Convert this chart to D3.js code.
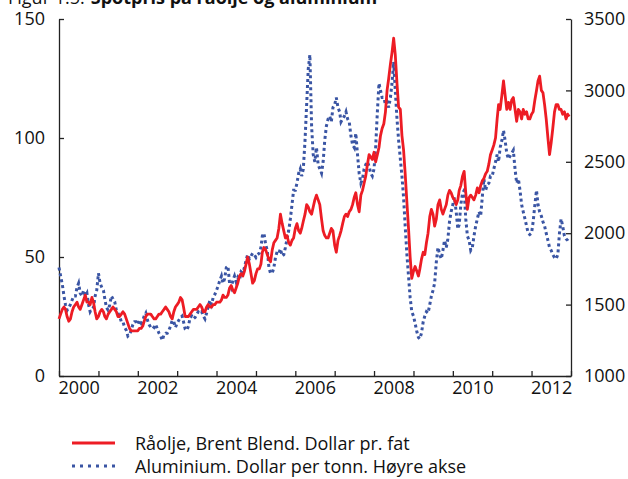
<!DOCTYPE html>
<html>
<head>
<meta charset="utf-8">
<script src="https://cdn.jsdelivr.net/npm/d3@7"></script>
<style>
  body { margin: 0; background: #fff; }
  text { font-family: "Open Sans", sans-serif; fill: #111; }
</style>
</head>
<body>
<div id="chart"></div>
<script>
// chart size
var svgWidth = 628;
var svgHeight = 479;

var margin = { top: 19, right: 57, bottom: 103, left: 59 };
var chartWidth = svgWidth - margin.left - margin.right;
var chartHeight = svgHeight - margin.top - margin.bottom;

// data: two points per month, 2000-2012
var years = [2000, 2001, 2002, 2003, 2004, 2005, 2006, 2007, 2008, 2009, 2010, 2011, 2012];

// Brent Blend, dollar per barrel (left axis)
var oil = [
  24, 26, 28, 29, 28, 25, 23, 24, 27, 29, 30, 31, 29, 28, 30, 32, 34, 31, 31, 30, 33, 31, 27, 24,
  25, 27, 28, 27, 25, 24, 26, 27, 28, 29, 28, 27, 25, 25, 26, 27, 26, 24, 22, 20, 19, 19, 19, 19,
  19, 20, 20, 21, 23, 25, 26, 26, 26, 25, 24, 24, 25, 26, 26, 27, 28, 29, 28, 27, 25, 24, 27, 29,
  30, 31, 33, 32, 29, 25, 25, 25, 26, 27, 28, 28, 28, 29, 30, 29, 27, 27, 29, 30, 29, 29, 30, 30,
  31, 31, 31, 32, 34, 33, 33, 34, 37, 38, 36, 35, 37, 39, 42, 43, 42, 44, 47, 50, 47, 43, 39, 40,
  43, 45, 45, 47, 52, 54, 53, 51, 49, 48, 53, 56, 57, 58, 62, 68, 64, 61, 58, 59, 56, 55, 57, 58,
  62, 64, 61, 60, 62, 65, 68, 72, 71, 69, 68, 71, 74, 76, 74, 72, 66, 61, 59, 58, 58, 60, 62, 61,
  55, 52, 57, 59, 61, 64, 67, 68, 67, 69, 70, 72, 75, 77, 72, 69, 76, 78, 81, 84, 89, 93, 92, 91,
  94, 90, 93, 96, 101, 104, 106, 111, 120, 125, 131, 136, 142, 135, 123, 113, 112, 101, 95, 85, 73, 62, 50, 41,
  44, 46, 44, 42, 45, 49, 52, 51, 56, 60, 67, 70, 68, 63, 66, 72, 74, 70, 68, 70, 72, 76, 78, 77,
  75, 74, 72, 74, 78, 80, 84, 86, 77, 70, 75, 76, 75, 74, 76, 79, 77, 80, 82, 83, 85, 86, 89, 93,
  95, 97, 100, 108, 114, 112, 118, 124, 118, 112, 115, 112, 116, 117, 112, 107, 112, 111, 108, 112, 110, 111, 108, 108,
  110, 111, 116, 120, 124, 126, 120, 119, 114, 108, 100, 93, 98, 104, 111, 114, 114, 112, 112, 110, 111, 108, 110, 109
];

// Aluminium, dollar per tonne (right axis)
var alu = [
  1760, 1700, 1640, 1560, 1500, 1460, 1480, 1500, 1530, 1560, 1560, 1620, 1650, 1580, 1560, 1600, 1560, 1580, 1500, 1450, 1470, 1480, 1560, 1600,
  1720, 1650, 1620, 1600, 1540, 1480, 1460, 1500, 1560, 1540, 1520, 1460, 1440, 1420, 1380, 1380, 1340, 1320, 1280, 1290, 1320, 1360, 1380, 1380,
  1360, 1390, 1370, 1390, 1420, 1440, 1390, 1360, 1340, 1350, 1340, 1360, 1330, 1300, 1280, 1250, 1290, 1300, 1300, 1320, 1350, 1390, 1380, 1340,
  1370, 1390, 1410, 1420, 1380, 1330, 1320, 1350, 1410, 1420, 1400, 1410, 1430, 1450, 1440, 1450, 1420, 1400, 1440, 1490, 1530, 1500, 1550, 1570,
  1600, 1630, 1670, 1700, 1650, 1680, 1760, 1770, 1650, 1620, 1670, 1700, 1660, 1690, 1670, 1730, 1720, 1760, 1810, 1850, 1820, 1840, 1860, 1850,
  1830, 1850, 1860, 1900, 1980, 2000, 1920, 1880, 1760, 1720, 1720, 1760, 1830, 1870, 1860, 1890, 1840, 1850, 1900, 1960, 2020, 2100, 2200, 2300,
  2300, 2350, 2420, 2450, 2400, 2450, 2650, 2900, 3150, 3250, 2750, 2550, 2500, 2600, 2480, 2450, 2420, 2500, 2650, 2750, 2800, 2820, 2780, 2880,
  2900, 2950, 2880, 2850, 2780, 2800, 2820, 2850, 2800, 2780, 2680, 2620, 2600, 2700, 2550, 2420, 2350, 2380, 2450, 2480, 2500, 2470, 2420, 2400,
  2450, 2600, 2850, 3050, 3000, 2950, 2950, 2900, 2920, 2880, 2950, 3050, 3200, 3000, 2800, 2650, 2520, 2400, 2250, 2050, 1850, 1700, 1550, 1450,
  1420, 1370, 1310, 1270, 1260, 1300, 1380, 1420, 1450, 1440, 1500, 1560, 1600, 1650, 1800, 1900, 1850, 1820, 1880, 1950, 1900, 1960, 2080, 2150,
  2200, 2250, 2150, 2030, 2060, 2200, 2280, 2300, 2100, 1980, 1950, 1880, 1900, 1980, 2050, 2100, 2150, 2120, 2250, 2380, 2300, 2340, 2350, 2400,
  2400, 2450, 2500, 2550, 2500, 2600, 2650, 2720, 2650, 2560, 2520, 2540, 2560, 2580, 2450, 2350, 2380, 2300, 2200, 2150, 2100, 2050, 2000, 1990,
  2000, 2080, 2200, 2300, 2200, 2150, 2120, 2080, 2050, 2000, 1950, 1900, 1880, 1850, 1830, 1820, 1850, 2000, 2100, 2050, 1980, 1960, 1950, 1930
];

var leftTicks = [0, 50, 100, 150];
var rightTicks = [1000, 1500, 2000, 2500, 3000, 3500];
var yearLabels = [2000, 2002, 2004, 2006, 2008, 2010, 2012];

var titleLight = "Figur 1.5.";
var titleBold = "Spotpris på råolje og aluminium";
var legendOil = "Råolje, Brent Blend. Dollar pr. fat";
var legendAlu = "Aluminium. Dollar per tonn. Høyre akse";

// dates: 1st and 16th of each month
var dates = [];
years.forEach(function(y) {
  for (var m = 0; m < 12; m++) {
    dates.push(new Date(y, m, 1));
    dates.push(new Date(y, m, 16));
  }
});

var svg = d3.select("#chart")
  .append("svg")
  .attr("width", svgWidth)
  .attr("height", svgHeight);

// title, cut off at the top like the original
var t1 = svg.append("text")
  .attr("x", 8)
  .attr("y", 4)
  .attr("font-size", "18px")
  .attr("fill", "#333")
  .text(titleLight);
svg.append("text")
  .attr("x", 8 + t1.node().getComputedTextLength() + 6)
  .attr("y", 4)
  .attr("font-size", "18px")
  .attr("font-weight", "bold")
  .text(titleBold);

var chartGroup = svg.append("g")
  .attr("transform", `translate(${margin.left}, ${margin.top})`);

// scales
var xScale = d3.scaleTime()
  .domain([new Date(2000, 0, 1), new Date(2013, 0, 1)])
  .range([0, chartWidth]);

var yLeft = d3.scaleLinear()
  .domain([0, 150])
  .range([chartHeight, 0]);

var yRight = d3.scaleLinear()
  .domain([1000, 3500])
  .range([chartHeight, 0]);

// axes
var leftAxis = d3.axisLeft(yLeft).tickValues(leftTicks)
  .tickSize(-5).tickSizeOuter(0).tickPadding(14)
  .tickFormat(d3.format("d"));
var rightAxis = d3.axisRight(yRight).tickValues(rightTicks)
  .tickSize(-5).tickSizeOuter(0).tickPadding(13)
  .tickFormat(d3.format("d"));
var bottomAxis = d3.axisBottom(xScale).ticks(d3.timeYear.every(1))
  .tickSize(-5).tickSizeOuter(0).tickFormat("");
var labelAxis = d3.axisBottom(xScale)
  .tickValues(yearLabels.map(y => new Date(y, 6, 1)))
  .tickSize(0).tickPadding(5)
  .tickFormat(d3.timeFormat("%Y"));

function styleAxis(g) {
  g.selectAll("path, line").attr("stroke", "#222").attr("stroke-width", 1.3);
  g.selectAll("text").attr("font-size", "18px").attr("font-family", "Open Sans, sans-serif").attr("fill", "#111");
}

chartGroup.append("g").call(leftAxis).call(styleAxis);
chartGroup.append("g")
  .attr("transform", `translate(${chartWidth}, 0)`)
  .call(rightAxis).call(styleAxis)
  .selectAll("text").attr("text-anchor", "start");
chartGroup.append("g")
  .attr("transform", `translate(0, ${chartHeight})`)
  .call(bottomAxis).call(styleAxis);
chartGroup.append("g")
  .attr("transform", `translate(0, ${chartHeight})`)
  .call(labelAxis).call(styleAxis)
  .select(".domain").remove();

// lines
var oilLine = d3.line()
  .x((d, i) => xScale(dates[i]))
  .y(d => yLeft(d));

var aluLine = d3.line()
  .x((d, i) => xScale(dates[i]))
  .y(d => yRight(d));

chartGroup.append("path")
  .datum(alu)
  .attr("d", aluLine)
  .attr("fill", "none")
  .attr("stroke", "#3a55a4")
  .attr("stroke-width", 3)
  .attr("stroke-dasharray", "3,3");

chartGroup.append("path")
  .datum(oil)
  .attr("d", oilLine)
  .attr("fill", "none")
  .attr("stroke", "#ed1c24")
  .attr("stroke-width", 2.8)
  .attr("stroke-linejoin", "round");

// legend
var legend = svg.append("g");

legend.append("line")
  .attr("x1", 72).attr("x2", 115)
  .attr("y1", 443).attr("y2", 443)
  .attr("stroke", "#ed1c24").attr("stroke-width", 3);
legend.append("text")
  .attr("x", 135).attr("y", 450)
  .attr("font-size", "18px")
  .text(legendOil);

legend.append("line")
  .attr("x1", 72).attr("x2", 115)
  .attr("y1", 466).attr("y2", 466)
  .attr("stroke", "#3a55a4").attr("stroke-width", 3)
  .attr("stroke-dasharray", "3,5");
legend.append("text")
  .attr("x", 135).attr("y", 473)
  .attr("font-size", "18px")
  .text(legendAlu);
</script>
</body>
</html>
